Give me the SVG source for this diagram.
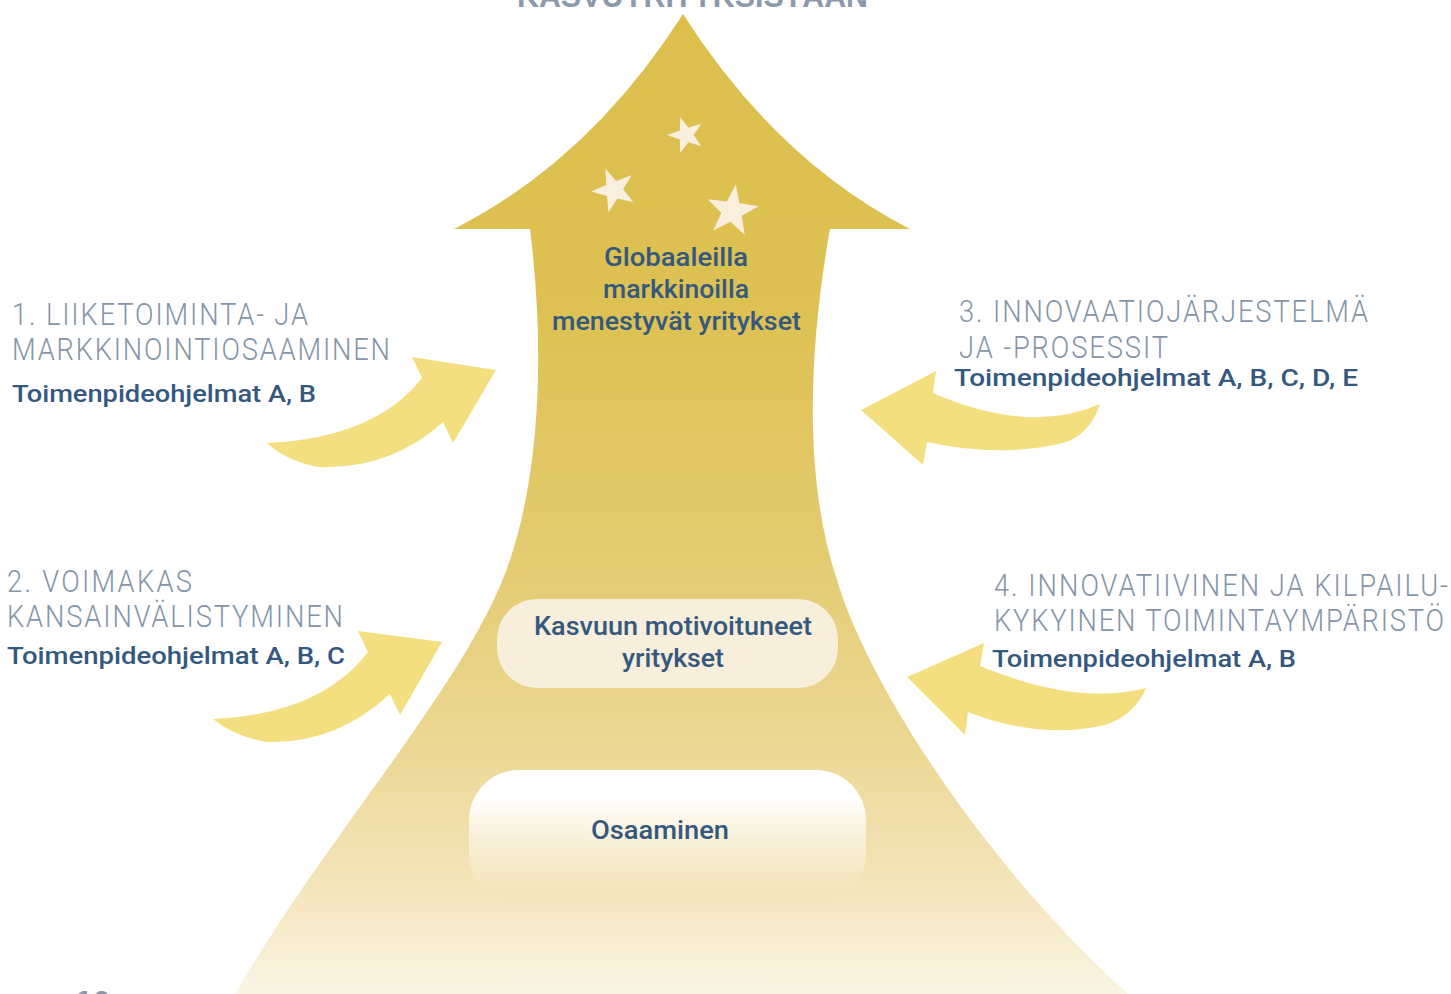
<svg xmlns="http://www.w3.org/2000/svg" xmlns:xlink="http://www.w3.org/1999/xlink" width="1451" height="994" viewBox="0 0 1451 994">
<style>
.h{font-family:Roboto,"Liberation Sans",sans-serif;font-weight:300;font-size:31px;fill:#8495a7}
.b{font-family:Roboto,"Liberation Sans",sans-serif;font-weight:500;font-size:24px;fill:#34587e}
.c{font-family:Roboto,"Liberation Sans",sans-serif;font-weight:500;font-size:25px;fill:#34587e}
.t{font-family:"Liberation Sans",sans-serif;font-weight:700;font-size:32px;fill:#8a9aab}
.ya{fill:#f3df80}
.star{fill:#f8efdf}
</style>
<defs>
<linearGradient id="shaft" gradientUnits="userSpaceOnUse" x1="0" y1="14" x2="0" y2="994">
<stop offset="0" stop-color="#dcbf4d"/>
<stop offset="0.3" stop-color="#ddc152"/>
<stop offset="0.55" stop-color="#e4cb70"/>
<stop offset="0.75" stop-color="#ecd895"/>
<stop offset="0.9" stop-color="#f4e6be"/>
<stop offset="1" stop-color="#fbf5e5"/>
</linearGradient>
<linearGradient id="box2" x1="0" y1="0" x2="0" y2="1">
<stop offset="0" stop-color="#ffffff"/>
<stop offset="0.2" stop-color="#ffffff"/>
<stop offset="1" stop-color="#f3e4b8" stop-opacity="0.5"/>
</linearGradient>
<polygon id="star" points="0,-1 0.235,-0.324 0.951,-0.309 0.38,0.124 0.588,0.809 0,0.4 -0.588,0.809 -0.38,0.124 -0.951,-0.309 -0.235,-0.324"/>
</defs>

<g id="main-arrow">
<path d="M683,14 Q776,160 910,229 L830,229 C812,330 800,470 837,580 C870,690 990,870 1128,994 L235,994 C330,830 470,680 510,560 C540,470 545,350 530,229 L454,229 Q590,160 683,14 Z" fill="url(#shaft)"/>
<use xlink:href="#star" class="star" transform="translate(686,135) rotate(-18) scale(19)"/>
<use xlink:href="#star" class="star" transform="translate(614,190) rotate(-22) scale(23)"/>
<use xlink:href="#star" class="star" transform="translate(732,211) rotate(8) scale(27)"/>
<text class="c" x="604" y="266" textLength="144" lengthAdjust="spacingAndGlyphs">Globaaleilla</text>
<text class="c" x="603" y="298" textLength="146" lengthAdjust="spacingAndGlyphs">markkinoilla</text>
<text class="c" x="552" y="330" textLength="249" lengthAdjust="spacingAndGlyphs">menestyvät yritykset</text>
</g>

<g id="title">
<text class="t" x="517" y="7" textLength="351" lengthAdjust="spacingAndGlyphs">KASVUYRITYKSISTÄÄN</text>
</g>
<g id="page">
<text class="t" x="75" y="1013">10</text>
</g>

<g id="box-kasvuun">
<rect x="497" y="599" width="341" height="89" rx="40" fill="#f7eedb"/>
<text class="c" x="534" y="635" textLength="278" lengthAdjust="spacingAndGlyphs">Kasvuun motivoituneet</text>
<text class="c" x="622" y="667" textLength="102" lengthAdjust="spacingAndGlyphs">yritykset</text>
</g>

<g id="box-osaaminen">
<rect x="469" y="770" width="397" height="133" rx="50" fill="url(#box2)"/>
<text class="c" x="591" y="839" textLength="138" lengthAdjust="spacingAndGlyphs">Osaaminen</text>
</g>

<g id="connectors">
<path class="ya" d="M267,443 Q375,438 422,378 L412,357 L496,370 L453,443 L443,422 Q390,470 317,467 Q285,460 267,443 Z"/>
<path class="ya" d="M213,719 Q321,714 368,652 L358,631 L442,642 L400,715 L390,694 Q336,744 267,742 Q233,736 213,719 Z"/>
<path class="ya" d="M861,410 L936,371 L933,393 Q1030,435 1100,404 Q1090,435 1063,443 Q1000,458 927,442 L923,465 Z"/>
<path class="ya" d="M907,677 L984,643 L980,666 Q1077,706 1146,688 Q1135,715 1105,725 Q1040,740 968,712 L965,735 Z"/>
</g>

<g id="label-1">
<g transform="scale(0.88,1)">
<text class="h" x="13.64" y="325" textLength="336.4" lengthAdjust="spacing">1. LIIKETOIMINTA- JA</text>
<text class="h" x="13.64" y="360" textLength="429.5" lengthAdjust="spacing">MARKKINOINTIOSAAMINEN</text>
</g>
<text class="b" x="12" y="402" textLength="304" lengthAdjust="spacingAndGlyphs">Toimenpideohjelmat A, B</text>
</g>
<g id="label-2">
<g transform="scale(0.88,1)">
<text class="h" x="7.95" y="592" textLength="210.2" lengthAdjust="spacing">2. VOIMAKAS</text>
<text class="h" x="7.95" y="627" textLength="381.8" lengthAdjust="spacing">KANSAINVÄLISTYMINEN</text>
</g>
<text class="b" x="7" y="664" textLength="338" lengthAdjust="spacingAndGlyphs">Toimenpideohjelmat A, B, C</text>
</g>
<g id="label-3">
<g transform="scale(0.88,1)">
<text class="h" x="1089.8" y="322" textLength="464.8" lengthAdjust="spacing">3. INNOVAATIOJÄRJESTELMÄ</text>
<text class="h" x="1089.8" y="358" textLength="237.5" lengthAdjust="spacing">JA -PROSESSIT</text>
</g>
<text class="b" x="954" y="386" textLength="404" lengthAdjust="spacingAndGlyphs">Toimenpideohjelmat A, B, C, D, E</text>
</g>
<g id="label-4">
<g transform="scale(0.88,1)">
<text class="h" x="1129.5" y="596" textLength="515.9" lengthAdjust="spacing">4. INNOVATIIVINEN JA KILPAILU-</text>
<text class="h" x="1129.5" y="631" textLength="511.4" lengthAdjust="spacing">KYKYINEN TOIMINTAYMPÄRISTÖ</text>
</g>
<text class="b" x="992" y="667" textLength="304" lengthAdjust="spacingAndGlyphs">Toimenpideohjelmat A, B</text>
</g>
</svg>
